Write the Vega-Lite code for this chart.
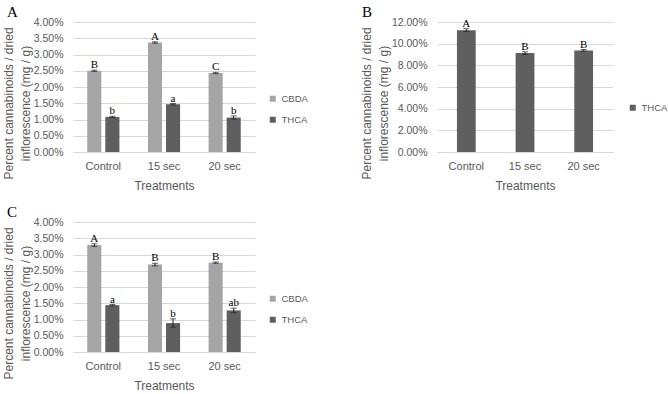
{
  "$schema": "https://vega.github.io/schema/vega-lite/v6.json",
  "background": "white",
  "padding": {"left": 2, "top": 5, "right": 0, "bottom": 0},
  "config": {
    "font": "Liberation Sans",
    "view": {"stroke": null},
    "title": {"font": "Liberation Serif", "fontSize": 15, "fontWeight": "normal", "color": "#000000", "anchor": "start", "frame": "group", "offset": -3},
    "axis": {"labelFont": "Liberation Sans", "titleFont": "Liberation Sans", "labelColor": "#595959", "titleColor": "#595959", "titleFontWeight": "normal", "ticks": false},
    "axisX": {"labelAngle": 0, "labelFontSize": 11, "labelPadding": 8, "titleFontSize": 12, "titlePadding": 9, "domainColor": "#D9D9D9", "grid": false},
    "axisY": {"labelFontSize": 10.5, "labelPadding": 10, "labelOverlap": false, "titleFontSize": 12, "titlePadding": 1, "titleLineHeight": 17, "titleY": 81, "domain": false, "grid": true, "gridColor": "#D9D9D9"},
    "legend": {"labelFont": "Liberation Sans", "labelFontSize": 9.5, "labelColor": "#595959", "symbolType": "square", "symbolSize": 36, "symbolStrokeWidth": 0, "rowPadding": 10, "padding": 0, "orient": "none"}
  },
  "datasets": {
    "a": [
      {"treatment": "Control", "compound": "CBDA", "value": 2.50, "lo": 2.48, "hi": 2.52, "letter": "B"},
      {"treatment": "Control", "compound": "THCA", "value": 1.08, "lo": 1.06, "hi": 1.10, "letter": "b"},
      {"treatment": "15 sec", "compound": "CBDA", "value": 3.37, "lo": 3.35, "hi": 3.39, "letter": "A"},
      {"treatment": "15 sec", "compound": "THCA", "value": 1.47, "lo": 1.45, "hi": 1.49, "letter": "a"},
      {"treatment": "20 sec", "compound": "CBDA", "value": 2.43, "lo": 2.41, "hi": 2.45, "letter": "C"},
      {"treatment": "20 sec", "compound": "THCA", "value": 1.06, "lo": 1.01, "hi": 1.11, "letter": "b"}
    ],
    "b": [
      {"treatment": "Control", "compound": "THCA", "value": 11.25, "lo": 11.13, "hi": 11.37, "letter": "A"},
      {"treatment": "15 sec", "compound": "THCA", "value": 9.13, "lo": 9.01, "hi": 9.25, "letter": "B"},
      {"treatment": "20 sec", "compound": "THCA", "value": 9.38, "lo": 9.30, "hi": 9.46, "letter": "B"}
    ],
    "c": [
      {"treatment": "Control", "compound": "CBDA", "value": 3.29, "lo": 3.25, "hi": 3.33, "letter": "A"},
      {"treatment": "Control", "compound": "THCA", "value": 1.44, "lo": 1.42, "hi": 1.46, "letter": "a"},
      {"treatment": "15 sec", "compound": "CBDA", "value": 2.69, "lo": 2.65, "hi": 2.73, "letter": "B"},
      {"treatment": "15 sec", "compound": "THCA", "value": 0.89, "lo": 0.76, "hi": 1.02, "letter": "b"},
      {"treatment": "20 sec", "compound": "CBDA", "value": 2.75, "lo": 2.73, "hi": 2.77, "letter": "B"},
      {"treatment": "20 sec", "compound": "THCA", "value": 1.28, "lo": 1.21, "hi": 1.35, "letter": "ab"}
    ]
  },
  "resolve": {"scale": {"color": "independent"}, "legend": {"color": "independent"}},
  "columns": 2,
  "spacing": {"column": 182, "row": 70},
  "bounds": "flush",
  "concat": [
    {
      "title": {"text": "A", "dx": -66},
      "width": 182, "height": 130,
      "data": {"name": "a"},
      "encoding": {
        "x": {"field": "treatment", "type": "nominal", "sort": ["Control", "15 sec", "20 sec"], "scale": {"paddingInner": 0.47, "paddingOuter": 0.235}, "axis": {"title": "Treatments"}},
        "xOffset": {"field": "compound", "type": "nominal", "scale": {"paddingInner": 0.22}}
      },
      "layer": [
        {"mark": {"type": "bar"}, "encoding": {
          "y": {"field": "value", "type": "quantitative", "scale": {"domain": [0, 4]}, "axis": {"title": ["Percent cannabinoids / dried", "inflorescence (mg / g)"], "values": [0, 0.5, 1, 1.5, 2, 2.5, 3, 3.5, 4], "labelExpr": "format(datum.value, '.2f') + '%'"}},
          "color": {"field": "compound", "type": "nominal", "scale": {"domain": ["CBDA", "THCA"], "range": ["#A5A5A5", "#5F5F5F"]}, "legend": {"title": null, "legendX": 195, "legendY": 72}}
        }},
        {"mark": {"type": "rule", "color": "#222222", "strokeWidth": 1}, "encoding": {"y": {"field": "lo", "type": "quantitative", "axis": {"title": ["Percent cannabinoids / dried", "inflorescence (mg / g)"], "values": [0, 0.5, 1, 1.5, 2, 2.5, 3, 3.5, 4], "labelExpr": "format(datum.value, '.2f') + '%'"}}, "y2": {"field": "hi"}}},
        {"mark": {"type": "tick", "color": "#222222", "size": 6, "thickness": 1}, "encoding": {"y": {"field": "hi", "type": "quantitative", "axis": {"title": ["Percent cannabinoids / dried", "inflorescence (mg / g)"], "values": [0, 0.5, 1, 1.5, 2, 2.5, 3, 3.5, 4], "labelExpr": "format(datum.value, '.2f') + '%'"}}}},
        {"mark": {"type": "tick", "color": "#222222", "size": 6, "thickness": 1}, "encoding": {"y": {"field": "lo", "type": "quantitative", "axis": {"title": ["Percent cannabinoids / dried", "inflorescence (mg / g)"], "values": [0, 0.5, 1, 1.5, 2, 2.5, 3, 3.5, 4], "labelExpr": "format(datum.value, '.2f') + '%'"}}}},
        {"mark": {"type": "text", "font": "Liberation Serif", "fontSize": 11, "color": "#000000", "baseline": "alphabetic", "dy": -2}, "encoding": {"y": {"field": "hi", "type": "quantitative", "axis": {"title": ["Percent cannabinoids / dried", "inflorescence (mg / g)"], "values": [0, 0.5, 1, 1.5, 2, 2.5, 3, 3.5, 4], "labelExpr": "format(datum.value, '.2f') + '%'"}}, "text": {"field": "letter"}}}
      ]
    },
    {
      "title": {"text": "B", "dx": -75},
      "width": 176, "height": 130,
      "data": {"name": "b"},
      "encoding": {
        "x": {"field": "treatment", "type": "nominal", "sort": ["Control", "15 sec", "20 sec"], "scale": {"paddingInner": 0.68, "paddingOuter": 0.34}, "axis": {"title": "Treatments"}}
      },
      "layer": [
        {"mark": {"type": "bar"}, "encoding": {
          "y": {"field": "value", "type": "quantitative", "scale": {"domain": [0, 12]}, "axis": {"title": ["Percent cannabinoids / dried", "inflorescence (mg / g)"], "values": [0, 2, 4, 6, 8, 10, 12], "labelExpr": "format(datum.value, '.2f') + '%'"}},
          "color": {"field": "compound", "type": "nominal", "scale": {"domain": ["THCA"], "range": ["#5F5F5F"]}, "legend": {"title": null, "legendX": 191, "legendY": 81}}
        }},
        {"mark": {"type": "rule", "color": "#222222", "strokeWidth": 1}, "encoding": {"y": {"field": "lo", "type": "quantitative", "axis": {"title": ["Percent cannabinoids / dried", "inflorescence (mg / g)"], "values": [0, 2, 4, 6, 8, 10, 12], "labelExpr": "format(datum.value, '.2f') + '%'"}}, "y2": {"field": "hi"}}},
        {"mark": {"type": "tick", "color": "#222222", "size": 6, "thickness": 1}, "encoding": {"y": {"field": "hi", "type": "quantitative", "axis": {"title": ["Percent cannabinoids / dried", "inflorescence (mg / g)"], "values": [0, 2, 4, 6, 8, 10, 12], "labelExpr": "format(datum.value, '.2f') + '%'"}}}},
        {"mark": {"type": "tick", "color": "#222222", "size": 6, "thickness": 1}, "encoding": {"y": {"field": "lo", "type": "quantitative", "axis": {"title": ["Percent cannabinoids / dried", "inflorescence (mg / g)"], "values": [0, 2, 4, 6, 8, 10, 12], "labelExpr": "format(datum.value, '.2f') + '%'"}}}},
        {"mark": {"type": "text", "font": "Liberation Serif", "fontSize": 11, "color": "#000000", "baseline": "alphabetic", "dy": -2}, "encoding": {"y": {"field": "hi", "type": "quantitative", "axis": {"title": ["Percent cannabinoids / dried", "inflorescence (mg / g)"], "values": [0, 2, 4, 6, 8, 10, 12], "labelExpr": "format(datum.value, '.2f') + '%'"}}, "text": {"field": "letter"}}}
      ]
    },
    {
      "title": {"text": "C", "dx": -66},
      "width": 182, "height": 130,
      "data": {"name": "c"},
      "encoding": {
        "x": {"field": "treatment", "type": "nominal", "sort": ["Control", "15 sec", "20 sec"], "scale": {"paddingInner": 0.47, "paddingOuter": 0.235}, "axis": {"title": "Treatments"}},
        "xOffset": {"field": "compound", "type": "nominal", "scale": {"paddingInner": 0.22}}
      },
      "layer": [
        {"mark": {"type": "bar"}, "encoding": {
          "y": {"field": "value", "type": "quantitative", "scale": {"domain": [0, 4]}, "axis": {"title": ["Percent cannabinoids / dried", "inflorescence (mg / g)"], "values": [0, 0.5, 1, 1.5, 2, 2.5, 3, 3.5, 4], "labelExpr": "format(datum.value, '.2f') + '%'"}},
          "color": {"field": "compound", "type": "nominal", "scale": {"domain": ["CBDA", "THCA"], "range": ["#A5A5A5", "#5F5F5F"]}, "legend": {"title": null, "legendX": 195, "legendY": 72}}
        }},
        {"mark": {"type": "rule", "color": "#222222", "strokeWidth": 1}, "encoding": {"y": {"field": "lo", "type": "quantitative", "axis": {"title": ["Percent cannabinoids / dried", "inflorescence (mg / g)"], "values": [0, 0.5, 1, 1.5, 2, 2.5, 3, 3.5, 4], "labelExpr": "format(datum.value, '.2f') + '%'"}}, "y2": {"field": "hi"}}},
        {"mark": {"type": "tick", "color": "#222222", "size": 6, "thickness": 1}, "encoding": {"y": {"field": "hi", "type": "quantitative", "axis": {"title": ["Percent cannabinoids / dried", "inflorescence (mg / g)"], "values": [0, 0.5, 1, 1.5, 2, 2.5, 3, 3.5, 4], "labelExpr": "format(datum.value, '.2f') + '%'"}}}},
        {"mark": {"type": "tick", "color": "#222222", "size": 6, "thickness": 1}, "encoding": {"y": {"field": "lo", "type": "quantitative", "axis": {"title": ["Percent cannabinoids / dried", "inflorescence (mg / g)"], "values": [0, 0.5, 1, 1.5, 2, 2.5, 3, 3.5, 4], "labelExpr": "format(datum.value, '.2f') + '%'"}}}},
        {"mark": {"type": "text", "font": "Liberation Serif", "fontSize": 11, "color": "#000000", "baseline": "alphabetic", "dy": -2}, "encoding": {"y": {"field": "hi", "type": "quantitative", "axis": {"title": ["Percent cannabinoids / dried", "inflorescence (mg / g)"], "values": [0, 0.5, 1, 1.5, 2, 2.5, 3, 3.5, 4], "labelExpr": "format(datum.value, '.2f') + '%'"}}, "text": {"field": "letter"}}}
      ]
    }
  ]
}
